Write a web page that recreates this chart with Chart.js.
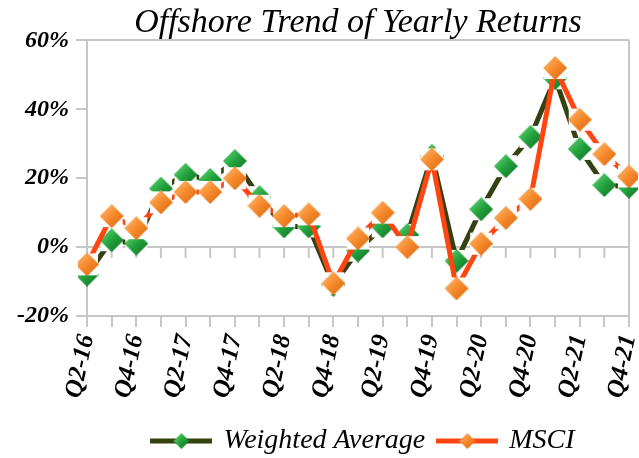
<!DOCTYPE html>
<html>
<head>
<meta charset="utf-8">
<script src="https://cdn.jsdelivr.net/npm/chart.js@4.4.0/dist/chart.umd.min.js"></script>
<style>
  html, body { margin: 0; padding: 0; background: #fff; }
  #wrap { width: 639px; height: 458px; }
</style>
</head>
<body>
<div id="wrap"><canvas id="chart" width="639" height="458"></canvas></div>
<script>
// quarters, Q2-16 .. Q4-21
var quarters = ['Q2-16', 'Q3-16', 'Q4-16', 'Q1-17', 'Q2-17', 'Q3-17', 'Q4-17', 'Q1-18',
  'Q2-18', 'Q3-18', 'Q4-18', 'Q1-19', 'Q2-19', 'Q3-19', 'Q4-19', 'Q1-20', 'Q2-20',
  'Q3-20', 'Q4-20', 'Q1-21', 'Q2-21', 'Q3-21', 'Q4-21'];
var weightedAvg = [-8, 2, 1, 17, 21, 19.5, 25, 14.5, 6, 6, -11, -1, 6, 3.5, 26.5, -4,
  11, 23.5, 32, 49, 28.5, 18, 17.5];
var msci = [-5, 9, 5.5, 13, 16, 16, 20, 12, 9, 9.5, -10.5, 2.5, 10, 0, 25.5, -12,
  1, 8.5, 14, 52, 37, 27, 20.5];
var yTicks = [-20, 0, 20, 40, 60];

var AXIS_GRAY = '#c6c6c6';
var FONT = '"Liberation Serif", "Times New Roman", serif';

// diamond marker on a white square, like the excel picture markers
function marker(light, mid, dark, size) {
  var c = document.createElement('canvas');
  c.width = size; c.height = size;
  var g = c.getContext('2d');
  var h = size / 2;
  g.fillStyle = '#fff';
  g.fillRect(1, 1, size - 2, size - 2);
  var grad = g.createLinearGradient(0, 0, size, size);
  grad.addColorStop(0, light);
  grad.addColorStop(0.5, mid);
  grad.addColorStop(1, dark);
  g.fillStyle = grad;
  g.beginPath();
  g.moveTo(h, 0); g.lineTo(size, h); g.lineTo(h, size); g.lineTo(0, h);
  g.closePath();
  g.fill();
  return c;
}

function legendIcon(lineColor, light, mid, dark) {
  var c = document.createElement('canvas');
  c.width = 62; c.height = 20;
  var g = c.getContext('2d');
  g.strokeStyle = lineColor;
  g.lineWidth = 5;
  g.beginPath(); g.moveTo(0, 10); g.lineTo(62, 10); g.stroke();
  var grad = g.createLinearGradient(23, 2, 39, 18);
  grad.addColorStop(0, light);
  grad.addColorStop(0.5, mid);
  grad.addColorStop(1, dark);
  g.fillStyle = grad;
  g.beginPath();
  g.moveTo(31, 2); g.lineTo(39, 10); g.lineTo(31, 18); g.lineTo(23, 10);
  g.closePath(); g.fill();
  return c;
}

var greenMarker = marker('#6fdc7c', '#22a23e', '#0e6a22', 24);
var orangeMarker = marker('#ffc07a', '#f68a2c', '#d86410', 24);

// tick marks hanging under the 0% line
var zeroTicks = {
  id: 'zeroTicks',
  beforeDatasetsDraw: function(chart) {
    var x = chart.scales.x, y = chart.scales.y;
    var y0 = y.getPixelForValue(0);
    var ctx = chart.ctx;
    ctx.save();
    ctx.strokeStyle = AXIS_GRAY;
    ctx.lineWidth = 2;
    ctx.beginPath();
    for (var i = 0; i < quarters.length; i++) {
      var px = x.getPixelForValue(i);
      ctx.moveTo(px, y0);
      ctx.lineTo(px, y0 + 11);
    }
    ctx.stroke();
    ctx.restore();
  }
};

// center title and legend over the plot area, nudge them down a bit
var boxFix = {
  id: 'boxFix',
  afterLayout: function(chart) {
    var a = chart.chartArea;
    var t = chart.titleBlock, l = chart.legend;
    t.left = a.left; t.right = a.right; t.width = a.right - a.left;
    l.left = a.left + 6; l.right = a.right + 6; l.width = a.right - a.left;
    t.top += 2; t.bottom += 2;
    l.top += 7; l.bottom += 7;
  }
};

new Chart(document.getElementById('chart'), {
  type: 'line',
  data: {
    labels: quarters,
    datasets: [{
      label: 'Weighted Average',
      data: weightedAvg,
      borderColor: '#344110',
      borderWidth: 5,
      pointStyle: greenMarker,
      order: 1,
      tension: 0
    }, {
      label: 'MSCI',
      data: msci,
      borderColor: '#ff4612',
      borderWidth: 5,
      pointStyle: orangeMarker,
      order: 0,
      tension: 0
    }]
  },
  plugins: [zeroTicks, boxFix],
  options: {
    responsive: false,
    animation: false,
    layout: { padding: { left: 0, right: 10, top: 0, bottom: 0 } },
    plugins: {
      tooltip: { enabled: false },
      title: {
        display: true,
        text: 'Offshore Trend of Yearly Returns',
        fullSize: false,
        color: '#000',
        font: { family: FONT, size: 34, style: 'italic', weight: 'normal', lineHeight: 1.1 },
        padding: { top: 2, bottom: 1 }
      },
      legend: {
        position: 'bottom',
        fullSize: false,
        labels: {
          usePointStyle: true,
          pointStyleWidth: 56,
          boxHeight: 20,
          padding: 14,
          color: '#000',
          font: { family: FONT, size: 28, style: 'italic' },
          generateLabels: function(chart) {
            return [
              { text: 'Weighted Average', datasetIndex: 0, pointStyle: legendIcon('#344110', '#6fdc7c', '#22a23e', '#0e6a22'), lineWidth: 0, strokeStyle: 'transparent', fillStyle: 'transparent' },
              { text: 'MSCI', datasetIndex: 1, pointStyle: legendIcon('#ff4612', '#ffc07a', '#f68a2c', '#d86410'), lineWidth: 0, strokeStyle: 'transparent', fillStyle: 'transparent' }
            ];
          }
        }
      }
    },
    scales: {
      x: {
        offset: false,
        border: { display: true, color: AXIS_GRAY, width: 2 },
        grid: {
          drawOnChartArea: true,
          color: function(ctx) { return ctx.index === quarters.length - 1 ? AXIS_GRAY : 'transparent'; },
          tickColor: AXIS_GRAY,
          tickLength: 11,
          lineWidth: 2
        },
        ticks: {
          autoSkip: false,
          minRotation: 78,
          maxRotation: 78,
          padding: 5,
          color: '#000',
          font: { family: FONT, size: 25, style: 'italic', weight: 'bold' },
          callback: function(v, i) { return i % 2 === 0 ? quarters[i] : ''; }
        },
        afterFit: function(scale) {
          scale.height = 90;
          scale.paddingRight = 0;
        }
      },
      y: {
        min: yTicks[0],
        max: yTicks[yTicks.length - 1],
        border: { display: true, color: AXIS_GRAY, width: 2 },
        grid: {
          color: function(ctx) {
            var v = ctx.tick && ctx.tick.value;
            return (v === 0 || v === 60) ? AXIS_GRAY : 'transparent';
          },
          tickColor: AXIS_GRAY,
          tickLength: 11,
          lineWidth: 2
        },
        ticks: {
          stepSize: 20,
          padding: 7,
          color: '#000',
          font: { family: FONT, size: 24, style: 'italic', weight: 'bold' },
          callback: function(v) { return v + '%'; }
        },
        afterFit: function(scale) { scale.width = 87; }
      }
    }
  }
});
</script>
</body>
</html>
